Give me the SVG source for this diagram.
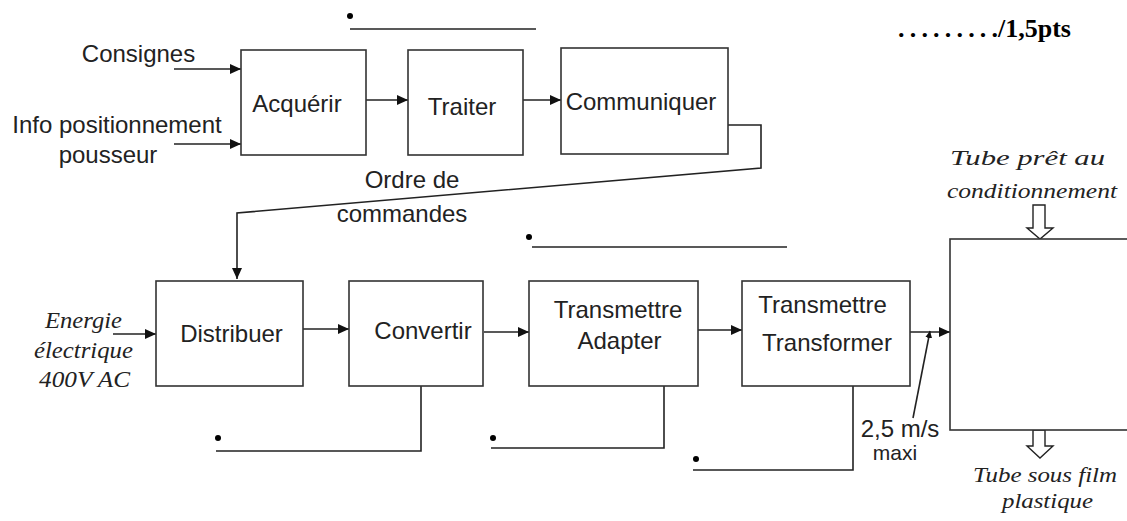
<svg xmlns="http://www.w3.org/2000/svg" width="1127" height="521" viewBox="0 0 1127 521">
<defs>
<style>
.box{fill:#fff;stroke:#333;stroke-width:1.6}
.ln{fill:none;stroke:#222;stroke-width:1.6}
.s{font-family:"Liberation Sans",Arial,sans-serif;font-size:24px;fill:#222;text-anchor:middle}
.i{font-family:"Liberation Serif","Times New Roman",serif;font-style:italic;fill:#222}
.b{font-family:"Liberation Serif","Times New Roman",serif;font-weight:bold;font-size:26px;fill:#000}
</style>
<marker id="ah" markerUnits="userSpaceOnUse" markerWidth="11" markerHeight="10" refX="11" refY="5" orient="auto">
<path d="M0,0 L11,5 L0,10 z" fill="#111"/>
</marker>
<marker id="as" markerUnits="userSpaceOnUse" markerWidth="7" markerHeight="7" refX="7" refY="3.5" orient="auto">
<path d="M0,0 L7,3.5 L0,7 z" fill="#111"/>
</marker>
</defs>
<rect width="1127" height="521" fill="#fff"/>

<g id="connectors">
<line class="ln" x1="174" y1="69" x2="241" y2="69" marker-end="url(#ah)"/>
<line class="ln" x1="174" y1="144" x2="241" y2="144" marker-end="url(#ah)"/>
<line class="ln" x1="366" y1="100" x2="408" y2="100" marker-end="url(#ah)"/>
<line class="ln" x1="523" y1="100" x2="561" y2="100" marker-end="url(#ah)"/>
<polyline class="ln" points="728,125 761,125 761,168 237,213 237,279" marker-end="url(#ah)"/>
<line class="ln" x1="113" y1="334" x2="156" y2="334" stroke-width="2.6" marker-end="url(#ah)"/>
<line class="ln" x1="303" y1="329" x2="349" y2="329" marker-end="url(#ah)"/>
<line class="ln" x1="484" y1="332" x2="529" y2="332" marker-end="url(#ah)"/>
<line class="ln" x1="698" y1="330" x2="742" y2="330" marker-end="url(#ah)"/>
<line class="ln" x1="907" y1="332" x2="950" y2="332" marker-end="url(#ah)"/>
<line class="ln" x1="913" y1="418" x2="930" y2="331" marker-end="url(#as)"/>
<polyline class="ln" points="421,386 421,451 216,451"/>
<polyline class="ln" points="664,386 664,448 491,448"/>
<polyline class="ln" points="853,386 853,470 693,470"/>
<line class="ln" x1="350" y1="29" x2="536" y2="29"/>
<line class="ln" x1="532" y1="247" x2="787" y2="247"/>
<path d="M1033,205 L1045,205 L1045,228 L1053,228 L1040,239 L1027,228 L1033,228 Z" fill="#fff" stroke="#222" stroke-width="1.4"/>
<path d="M1033,430 L1045,430 L1045,446 L1053,446 L1040,458 L1027,446 L1033,446 Z" fill="#fff" stroke="#222" stroke-width="1.4"/>
</g>

<g id="dots" fill="#000">
<circle cx="350" cy="16" r="3"/>
<circle cx="529" cy="237" r="3"/>
<circle cx="218" cy="438" r="3"/>
<circle cx="493" cy="438" r="3"/>
<circle cx="696" cy="459" r="3"/>
<circle cx="971" cy="273" r="3"/>
</g>

<g id="inputs">
<text class="s" x="138.5" y="62">Consignes</text>
<text class="s" x="117" y="133">Info positionnement</text>
<text class="s" x="108" y="163">pousseur</text>
<text class="s" x="412" y="188">Ordre de</text>
<text class="s" x="402" y="222">commandes</text>
<text class="i" x="45" y="328" font-size="23" textLength="77" lengthAdjust="spacingAndGlyphs">Energie</text>
<text class="i" x="34" y="358" font-size="23" textLength="99" lengthAdjust="spacingAndGlyphs">électrique</text>
<text class="i" x="39" y="387" font-size="23" textLength="91" lengthAdjust="spacingAndGlyphs">400V AC</text>
<text class="s" font-size="23"><tspan x="900" y="437">2,5 m/s</tspan><tspan x="895" y="460" font-size="21">maxi</tspan></text>
<text class="i" x="950" y="165" font-size="20" textLength="155" lengthAdjust="spacingAndGlyphs">Tube prêt au</text>
<text class="i" x="947" y="198" font-size="20" textLength="170" lengthAdjust="spacingAndGlyphs">conditionnement</text>
<text class="i" x="973" y="482" font-size="20" textLength="144" lengthAdjust="spacingAndGlyphs">Tube sous film</text>
<text class="i" x="1002" y="508" font-size="20" textLength="91" lengthAdjust="spacingAndGlyphs">plastique</text>
<text class="b" x="898" y="37" font-size="30" textLength="100" lengthAdjust="spacing">.........</text>
<text class="b" x="998" y="37">/1,5pts</text>
</g>

<g id="acquerir"><rect class="box" x="241" y="50" width="125" height="105"/><text class="s" x="297" y="112">Acquérir</text></g>
<g id="traiter"><rect class="box" x="408" y="50" width="115" height="105"/><text class="s" x="462" y="115">Traiter</text></g>
<g id="communiquer"><rect class="box" x="561" y="48" width="167" height="106"/><text class="s" x="641" y="110">Communiquer</text></g>
<g id="distribuer"><rect class="box" x="156" y="281" width="147" height="105"/><text class="s" x="231.5" y="342">Distribuer</text></g>
<g id="convertir"><rect class="box" x="349" y="281" width="134" height="105"/><text class="s" x="423" y="339">Convertir</text></g>
<g id="adapter"><rect class="box" x="529" y="281" width="169" height="105"/><text class="s" x="618" y="318">Transmettre</text><text class="s" x="619.5" y="349">Adapter</text></g>
<g id="transformer"><rect class="box" x="742" y="281" width="168" height="105"/><text class="s" x="822.5" y="313">Transmettre</text><text class="s" x="827" y="351">Transformer</text></g>
<g id="systeme"><rect class="box" x="950" y="239" width="190" height="191"/></g>
</svg>
